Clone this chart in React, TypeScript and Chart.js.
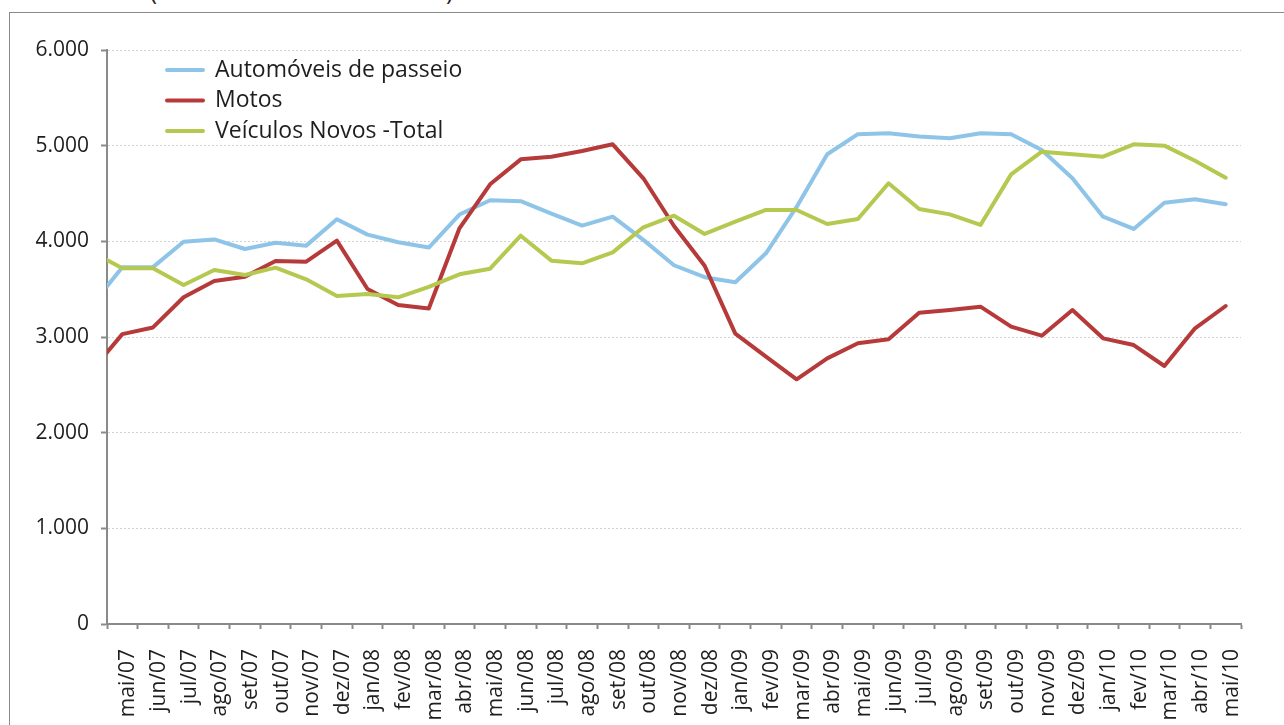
import React, { useEffect, useRef } from 'react';
import { Chart, registerables } from 'chart.js';

Chart.register(...registerables);

// Months (the first one, abr/07, lies just left of the visible axis range)
const months = [
  'abr/07', 'mai/07', 'jun/07', 'jul/07', 'ago/07', 'set/07', 'out/07', 'nov/07', 'dez/07',
  'jan/08', 'fev/08', 'mar/08', 'abr/08', 'mai/08', 'jun/08', 'jul/08', 'ago/08', 'set/08',
  'out/08', 'nov/08', 'dez/08', 'jan/09', 'fev/09', 'mar/09', 'abr/09', 'mai/09', 'jun/09',
  'jul/09', 'ago/09', 'set/09', 'out/09', 'nov/09', 'dez/09', 'jan/10', 'fev/10', 'mar/10',
  'abr/10', 'mai/10',
];
const firstShownMonth = 'mai/07';

const automoveis = [
  3330, 3730, 3730, 3995, 4020, 3920, 3985, 3955, 4230,
  4070, 3990, 3935, 4280, 4430, 4420, 4290, 4165, 4258,
  4015, 3750, 3625, 3572, 3875, 4360, 4910, 5120, 5130,
  5095, 5078, 5130, 5120, 4955, 4660, 4258, 4130, 4404,
  4440, 4388,
];

const motos = [
  2650, 3030, 3100, 3415, 3585, 3630, 3795, 3787, 4007,
  3502, 3334, 3298, 4136, 4596, 4857, 4885, 4944, 5014,
  4659, 4160, 3745, 3035, 2794, 2558, 2777, 2934, 2976,
  3254, 3282, 3317, 3108, 3014, 3282, 2986, 2916, 2697,
  3091, 3324,
];

const veiculosTotal = [
  3890, 3718, 3718, 3544, 3700, 3648, 3725, 3603, 3429,
  3449, 3415, 3525, 3655, 3714, 4059, 3798, 3770, 3885,
  4147, 4268, 4077, 4205, 4328, 4328, 4181, 4233, 4607,
  4338, 4282, 4171, 4700, 4937, 4910, 4885, 5014, 5000,
  4843, 4665,
];

const seriesNames = ['Automóveis de passeio', 'Motos', 'Veículos Novos -Total'];
const seriesColors = ['#8EC4E8', '#B63A3A', '#B5C850'];
const yTickLabels = ['0', '1.000', '2.000', '3.000', '4.000', '5.000', '6.000'];

const FONT = '"Open Sans", "DejaVu Sans", sans-serif';
const TEXT = '#1e1e1e';
const AXIS = '#8a8a8a';

const insideLegend = {
  id: 'insideLegend',
  afterDatasetsDraw(chart: any) {
    const { ctx, chartArea } = chart;
    ctx.save();
    chart.data.datasets.forEach((ds: any, i: number) => {
      const y = chartArea.top + 20 + i * 30.5;
      const x0 = chartArea.left + 60;
      ctx.strokeStyle = ds.borderColor;
      ctx.lineWidth = 4;
      ctx.lineCap = 'round';
      ctx.beginPath();
      ctx.moveTo(x0, y);
      ctx.lineTo(x0 + 36, y);
      ctx.stroke();
      ctx.fillStyle = TEXT;
      ctx.font = `23px ${FONT}`;
      ctx.textBaseline = 'middle';
      ctx.textAlign = 'left';
      ctx.fillText(ds.label, x0 + 48, y);
    });
    ctx.restore();
  },
};

export default function App() {
  const canvasRef = useRef<HTMLCanvasElement | null>(null);

  useEffect(() => {
    if (!canvasRef.current) return;
    const seriesData = [automoveis, motos, veiculosTotal];
    const chart = new Chart(canvasRef.current, {
      type: 'line',
      data: {
        labels: months,
        datasets: seriesData.map((d, i) => ({
          label: seriesNames[i],
          data: d,
          borderColor: seriesColors[i],
          backgroundColor: seriesColors[i],
          borderWidth: 4,
          pointRadius: 0,
          tension: 0,
          borderJoinStyle: 'round' as const,
          borderCapStyle: 'round' as const,
          fill: false,
          order: 2 - i,
        })),
      },
      options: {
        responsive: false,
        animation: false,
        events: [],
        layout: { padding: { top: 50, right: 43, left: 0, bottom: 0 } },
        plugins: {
          legend: { display: false },
          tooltip: { enabled: false },
          title: { display: false },
        },
        scales: {
          x: {
            type: 'category',
            min: firstShownMonth,
            offset: true,
            grid: {
              offset: true,
              drawOnChartArea: false,
              drawTicks: true,
              tickLength: 5,
              tickColor: AXIS,
              tickWidth: 2,
            },
            border: { color: AXIS, width: 2 },
            ticks: {
              autoSkip: false,
              maxRotation: 90,
              minRotation: 90,
              padding: 20,
              labelOffset: 6,
              color: TEXT,
              font: { family: FONT, size: 21, lineHeight: 1.2 },
            },
            afterFit: (s: any) => {
              s.height = 101;
            },
          },
          y: {
            min: 0,
            max: 6000,
            ticks: {
              stepSize: 1000,
              padding: 12,
              color: TEXT,
              font: { family: FONT, size: 21 },
              callback: (v: any) => yTickLabels[Math.round(Number(v) / 1000)],
            },
            grid: {
              color: (c: any) => (c.tick && c.tick.value === 0 ? 'rgba(0,0,0,0)' : '#d2d2d2'),
              lineWidth: 1,
              tickLength: 6,
              tickColor: AXIS,
              tickWidth: 2,
              tickBorderDash: [],
            },
            border: { color: AXIS, width: 2, dash: [2, 2] },
            afterFit: (s: any) => {
              s.width = 107;
            },
          },
        },
      } as any,
      plugins: [insideLegend],
    });
    return () => chart.destroy();
  }, []);

  return (
    <div
      style={{
        position: 'absolute',
        left: 0,
        top: 0,
        width: 1284,
        height: 725,
        background: '#ffffff',
        overflow: 'hidden',
      }}
    >
      <div
        style={{
          position: 'absolute',
          left: 9,
          top: 12,
          width: 1300,
          height: 800,
          borderTop: `1px solid ${AXIS}`,
          borderLeft: `1px solid ${AXIS}`,
        }}
      />
      <span
        style={{
          position: 'absolute',
          left: 150,
          top: -26,
          font: `24px ${FONT}`,
          color: TEXT,
        }}
      >
        (
      </span>
      <span
        style={{
          position: 'absolute',
          left: 446,
          top: -26,
          font: `24px ${FONT}`,
          color: TEXT,
        }}
      >
        )
      </span>
      <canvas
        ref={canvasRef}
        width={1284}
        height={725}
        style={{ position: 'absolute', left: 0, top: 0, display: 'block' }}
      />
    </div>
  );
}
